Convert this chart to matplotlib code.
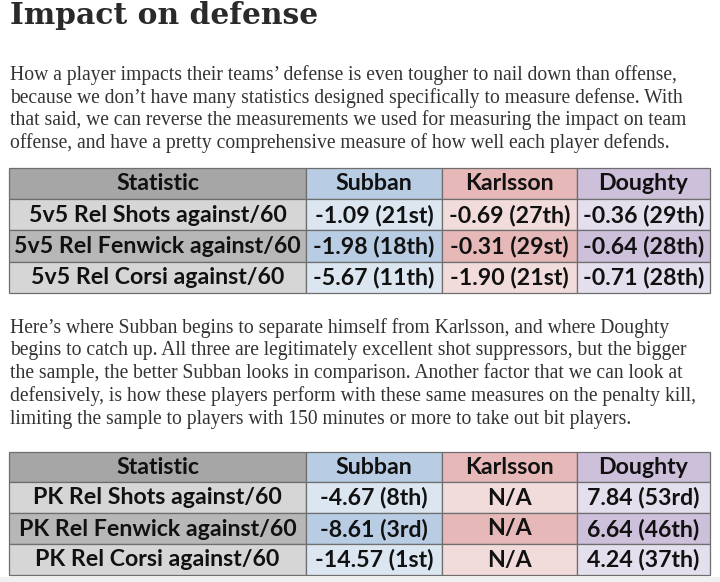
import matplotlib
matplotlib.use("Agg")
import matplotlib.pyplot as plt
from matplotlib.patches import Rectangle
import numpy as np

# ---------------- data ----------------
title = "Impact on defense"
para1 = [
    "How a player impacts their teams\u2019 defense is even tougher to nail down than offense,",
    "because we don\u2019t have many statistics designed specifically to measure defense. With",
    "that said, we can reverse the measurements we used for measuring the impact on team",
    "offense, and have a pretty comprehensive measure of how well each player defends.",
]
para2 = [
    "Here\u2019s where Subban begins to separate himself from Karlsson, and where Doughty",
    "begins to catch up. All three are legitimately excellent shot suppressors, but the bigger",
    "the sample, the better Subban looks in comparison. Another factor that we can look at",
    "defensively, is how these players perform with these same measures on the penalty kill,",
    "limiting the sample to players with 150 minutes or more to take out bit players.",
]
columns = ["Statistic", "Subban", "Karlsson", "Doughty"]

stats_5v5 = ["5v5 Rel Shots against/60", "5v5 Rel Fenwick against/60", "5v5 Rel Corsi against/60"]
subban_5v5 = ["-1.09 (21st)", "-1.98 (18th)", "-5.67 (11th)"]
karlsson_5v5 = ["-0.69 (27th)", "-0.31 (29st)", "-1.90 (21st)"]
doughty_5v5 = ["-0.36 (29th)", "-0.64 (28th)", "-0.71 (28th)"]

stats_pk = ["PK Rel Shots against/60", "PK Rel Fenwick against/60", "PK Rel Corsi against/60"]
subban_pk = ["-4.67 (8th)", "-8.61 (3rd)", "-14.57 (1st)"]
karlsson_pk = ["N/A", "N/A", "N/A"]
doughty_pk = ["7.84 (53rd)", "6.64 (46th)", "4.24 (37th)"]

# ---------------- style ----------------
W, H = 720, 582
SERIF = "Liberation Serif"
TITLE_FONT = "DejaVu Serif"
SANS = "Lato"
TEXT_COLOR = "#333333"
col_edges = [9, 306, 442, 577, 710]
# palettes: (header, light row, dark row)
palettes = [
    ("#a6a6a6", "#d6d6d6", "#b7b7b7"),
    ("#b8cce4", "#dce6f1", "#b8cce4"),
    ("#e6b8b7", "#f2dcdb", "#e6b8b7"),
    ("#ccc0da", "#e4dfec", "#ccc0da"),
]

fig = plt.figure(figsize=(W / 100, H / 100), dpi=100)
ax = fig.add_axes([0, 0, 1, 1])
ax.set_xlim(0, W)
ax.set_ylim(H, 0)
ax.axis("off")
fig.patch.set_facecolor("white")
renderer = fig.canvas.get_renderer()


def text_width(s, size, family, weight):
    t = ax.text(0, 0, s, fontsize=size, family=family, weight=weight)
    w = t.get_window_extent(renderer).width
    t.remove()
    return w


def fit_size(lines, targets, family, weight, base=12):
    ratios = [tw / text_width(s, base, family, weight) for s, tw in zip(lines, targets)]
    return base * float(np.median(ratios))


# title
ts = min(fit_size([title], [308], TITLE_FONT, "bold", 20), 21.5)
ax.text(10, 23.5, title, fontsize=ts, family=TITLE_FONT, weight="bold", color="#2a2a2a",
        va="baseline", ha="left")

# paragraphs
p1_ends = [675, 677, 688, 666]
p2_ends = [664, 686, 683, 695, 627]
ps = fit_size(para1 + para2, [e - 10 for e in p1_ends + p2_ends], SERIF, "normal", 12)
for i, line in enumerate(para1):
    ax.text(10, 80 + i * 22.6, line, fontsize=ps, family=SERIF, color=TEXT_COLOR,
            va="baseline", ha="left")
for i, line in enumerate(para2):
    ax.text(10, 332.5 + i * 22.8, line, fontsize=ps, family=SERIF, color=TEXT_COLOR,
            va="baseline", ha="left")

# table font size: fit the widest statistic label
tsz = fit_size(["5v5 Rel Fenwick against/60"], [284], SANS, "bold", 12)


def draw_table(top, row_edges_rel, stats, subban, karlsson, doughty):
    rows = [columns] + [list(r) for r in zip(stats, subban, karlsson, doughty)]
    edges = [top + r for r in row_edges_rel]
    for ri, row in enumerate(rows):
        y0, y1 = edges[ri], edges[ri + 1]
        for ci, val in enumerate(row):
            x0, x1 = col_edges[ci], col_edges[ci + 1]
            if ri == 0:
                fc = palettes[ci][0]
            else:
                fc = palettes[ci][2] if ri == 2 else palettes[ci][1]
            ax.add_patch(Rectangle((x0, y0), x1 - x0, y1 - y0, facecolor=fc,
                                   edgecolor="#6e6e6e", linewidth=0.9))
            ax.text((x0 + x1) / 2, (y0 + y1) / 2 + 0.5, val, fontsize=tsz, family=SANS,
                    weight="bold", color="#111111", ha="center", va="center")


draw_table(168, [0, 31, 62, 94, 125], stats_5v5, subban_5v5, karlsson_5v5, doughty_5v5)
draw_table(452, [0, 30, 61, 92, 123], stats_pk, subban_pk, karlsson_pk, doughty_pk)

# faint shadow strip at the bottom of the screenshot
ax.add_patch(Rectangle((0, 577), W, 5, facecolor="#f0f0f0", edgecolor="none", zorder=0))

fig.savefig("out.png", dpi=100, facecolor="white")
